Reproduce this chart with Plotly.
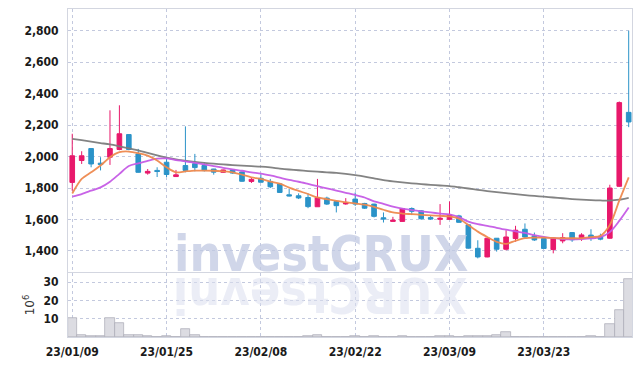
import plotly.graph_objects as go

# ---------------- data ----------------
dates = [
    "23/01/09", "23/01/10", "23/01/11", "23/01/12", "23/01/13", "23/01/16", "23/01/17", "23/01/18",
    "23/01/19", "23/01/20", "23/01/25", "23/01/26", "23/01/27", "23/01/30", "23/01/31", "23/02/01",
    "23/02/02", "23/02/03", "23/02/06", "23/02/07", "23/02/08", "23/02/09", "23/02/10", "23/02/13",
    "23/02/14", "23/02/15", "23/02/16", "23/02/17", "23/02/20", "23/02/21", "23/02/22", "23/02/23",
    "23/02/24", "23/02/27", "23/02/28", "23/03/02", "23/03/03", "23/03/06", "23/03/07", "23/03/08",
    "23/03/09", "23/03/10", "23/03/13", "23/03/14", "23/03/15", "23/03/16", "23/03/17", "23/03/20",
    "23/03/21", "23/03/22", "23/03/23", "23/03/24", "23/03/27", "23/03/28", "23/03/29", "23/03/30",
    "23/03/31", "23/04/03", "23/04/04", "23/04/05",
]
opens = [1836, 1975, 2051, 1958, 1996, 2045, 2140, 2017, 1895, 1912,
         1964, 1873, 1943, 1955, 1943, 1921, 1900, 1915, 1902, 1842,
         1862, 1842, 1826, 1757, 1751, 1740, 1681, 1736, 1714, 1699,
         1730, 1702, 1698, 1611, 1588, 1588, 1670, 1655, 1612, 1601,
         1601, 1623, 1566, 1417, 1362, 1481, 1411, 1479, 1538, 1496,
         1479, 1409, 1464, 1517, 1481, 1501, 1491, 1481, 1811, 2281]
highs = [2145, 2034, 2053, 1996, 2294, 2326, 2142, 2049, 1921, 1932,
         1995, 1915, 2192, 2017, 1964, 1922, 1917, 1916, 1905, 1864,
         1888, 1858, 1832, 1794, 1766, 1766, 1858, 1745, 1720, 1736,
         1772, 1706, 1700, 1645, 1617, 1672, 1677, 1660, 1625, 1698,
         1715, 1630, 1570, 1468, 1484, 1482, 1532, 1560, 1575, 1517,
         1480, 1485, 1513, 1520, 1513, 1538, 1510, 1821, 2350, 2800]
lows = [1783, 1953, 1932, 1912, 1947, 2040, 2040, 1898, 1885, 1870,
        1870, 1870, 1900, 1906, 1905, 1885, 1896, 1890, 1840, 1832,
        1835, 1800, 1770, 1747, 1730, 1672, 1681, 1692, 1645, 1694,
        1686, 1667, 1613, 1581, 1587, 1586, 1628, 1598, 1598, 1566,
        1599, 1580, 1415, 1353, 1360, 1396, 1404, 1459, 1485, 1464,
        1414, 1385, 1449, 1458, 1464, 1464, 1468, 1478, 1808, 2187]
closes = [2005, 2005, 1953, 1950, 2051, 2145, 2045, 1900, 1906, 1905,
          1886, 1884, 1912, 1930, 1911, 1901, 1915, 1895, 1843, 1855,
          1837, 1808, 1772, 1750, 1737, 1682, 1738, 1698, 1688, 1707,
          1698, 1672, 1620, 1603, 1596, 1670, 1652, 1605, 1603, 1608,
          1630, 1582, 1418, 1362, 1481, 1411, 1489, 1532, 1489, 1470,
          1416, 1481, 1485, 1471, 1502, 1482, 1475, 1800, 2343, 2220]
ma5 = [1765, 1858, 1900, 1943, 1996, 2028, 2032, 2022, 2006, 1975,
       1932, 1900, 1906, 1911, 1911, 1910, 1906, 1900, 1885, 1868,
       1858, 1841, 1828, 1803, 1782, 1762, 1740, 1729, 1718, 1710,
       1702, 1694, 1681, 1662, 1645, 1638, 1634, 1630, 1626, 1623,
       1620, 1605, 1565, 1523, 1489, 1458, 1445, 1465, 1481, 1485,
       1485, 1483, 1481, 1481, 1481, 1488, 1496, 1565, 1720, 1868]
ma20 = [1745, 1762, 1783, 1804, 1840, 1890, 1940, 1957, 1973, 1987,
        1988, 1978, 1970, 1960, 1950, 1940, 1928, 1918, 1910, 1900,
        1892, 1880, 1866, 1852, 1840, 1826, 1812, 1798, 1784, 1770,
        1756, 1740, 1715, 1700, 1682, 1669, 1660, 1652, 1645, 1638,
        1632, 1615, 1586, 1570, 1560, 1547, 1535, 1525, 1515, 1501,
        1490, 1482, 1476, 1474, 1476, 1480, 1488, 1520, 1591, 1676]
ma60 = [2113, 2104, 2095, 2086, 2077, 2065, 2052, 2040, 2024, 2008,
        1993, 1982, 1974, 1966, 1960, 1955, 1950, 1946, 1942, 1939,
        1936, 1931, 1924, 1918, 1913, 1908, 1904, 1900, 1896, 1890,
        1882, 1873, 1862, 1851, 1843, 1836, 1830, 1825, 1820, 1816,
        1812, 1805, 1797, 1789, 1781, 1774, 1767, 1761, 1755, 1750,
        1745, 1740, 1735, 1730, 1726, 1723, 1721, 1720, 1726, 1738]
volume = [10.5, 0.9, 0.4, 0.4, 10.5, 7.8, 0.9, 0.9, 0.4, 0.2,
          0.4, 0.2, 4.5, 0.9, 0.2, 0.2, 0.15, 0.15, 0.2, 0.1,
          0.15, 0.15, 0.15, 0.1, 0.2, 0.4, 0.9, 0.2, 0.15, 0.2,
          0.4, 0.2, 0.4, 0.15, 0.15, 0.4, 0.15, 0.15, 0.15, 0.4,
          0.4, 0.2, 0.4, 0.4, 0.4, 0.9, 2.5, 0.2, 0.2, 0.15,
          0.2, 0.2, 0.15, 0.15, 0.15, 0.4, 0.2, 7.3, 14.5, 31.8]
price_ticks = [1400, 1600, 1800, 2000, 2200, 2400, 2600, 2800]
vol_ticks = [10, 20, 30]

# ---------------- styling ----------------
UP = "#e8196b"
DOWN = "#2b93c8"
GRID = "#c3c9de"
FRAME = "#d3d6e0"
NARROW = "DejaVu Sans Condensed, DejaVu Sans, sans-serif"
TICKFONT = dict(family=NARROW, size=12, color="#1a1a1a", weight="bold")

x = list(range(len(dates)))
tick_idx = x[::10]
tick_text = [dates[i] for i in tick_idx]

fig = go.Figure()

fig.add_trace(go.Candlestick(
    x=x, open=opens, high=highs, low=lows, close=closes,
    increasing=dict(line=dict(color=UP, width=1), fillcolor=UP),
    decreasing=dict(line=dict(color=DOWN, width=1), fillcolor=DOWN),
    whiskerwidth=0, xaxis="x", yaxis="y", hoverinfo="skip",
))
for vals, col in [(ma60, "#7d7d7d"), (ma20, "#c65be6"), (ma5, "#ef8a4f")]:
    fig.add_trace(go.Scatter(x=x, y=vals, mode="lines",
                             line=dict(color=col, width=1.8, shape="spline", smoothing=0.8),
                             opacity=0.95, xaxis="x", yaxis="y", hoverinfo="skip"))

fig.add_trace(go.Bar(x=x, y=volume, marker=dict(color="#dcdce2", line=dict(color="#a9a9b4", width=0.7)),
                     xaxis="x2", yaxis="y2", hoverinfo="skip"))

common_x = dict(range=[-0.45, 59.35], tickvals=tick_idx, showgrid=True, gridcolor=GRID,
                griddash="dot", gridwidth=1, showline=True, linecolor=FRAME, linewidth=1,
                mirror=True, zeroline=False, ticks="", automargin=False)
common_y = dict(showgrid=True, gridcolor=GRID, griddash="dot", gridwidth=1, showline=True,
                linecolor=FRAME, linewidth=1, mirror=True, zeroline=False, ticks="",
                tickfont=TICKFONT, ticklabelstandoff=6, automargin=False)

# the page body has an 8px default margin, so the figure is sized/placed to compensate
fig.update_layout(
    width=634, height=358,
    margin=dict(l=60, r=10, t=1, b=29),
    paper_bgcolor="white", plot_bgcolor="white",
    showlegend=False, boxgap=0.3, bargap=0,
    xaxis=dict(domain=[0, 1], anchor="y", showticklabels=False,
               rangeslider=dict(visible=False), **common_x),
    xaxis2=dict(domain=[0, 1], anchor="y2", matches="x", ticktext=tick_text,
                tickfont=TICKFONT, ticklabelstandoff=4, **common_x),
    yaxis=dict(domain=[0.198, 1], anchor="x", range=[1266, 2938], tickvals=price_ticks,
               tickformat=",", **common_y),
    yaxis2=dict(domain=[0, 0.195], anchor="x2", range=[0, 35], tickvals=vol_ticks,
                title=dict(text="10<sup>6</sup>", font=dict(family="DejaVu Sans", size=12, color="#333"),
                           standoff=6),
                **common_y),
    annotations=[
        dict(text="<b>investCRUX</b>", xref="paper", yref="paper", x=0.448, y=0.252,
             showarrow=False, xanchor="center", yanchor="middle",
             font=dict(family=NARROW, size=50, color="rgba(192,200,226,0.75)")),
        dict(text="<b>XURCtsevni</b>", xref="paper", yref="paper", x=0.448, y=0.128,
             showarrow=False, xanchor="center", yanchor="middle", textangle=180,
             font=dict(family=NARROW, size=50, color="rgba(218,223,238,0.55)")),
    ],
)

fig.write_html("out.html")
